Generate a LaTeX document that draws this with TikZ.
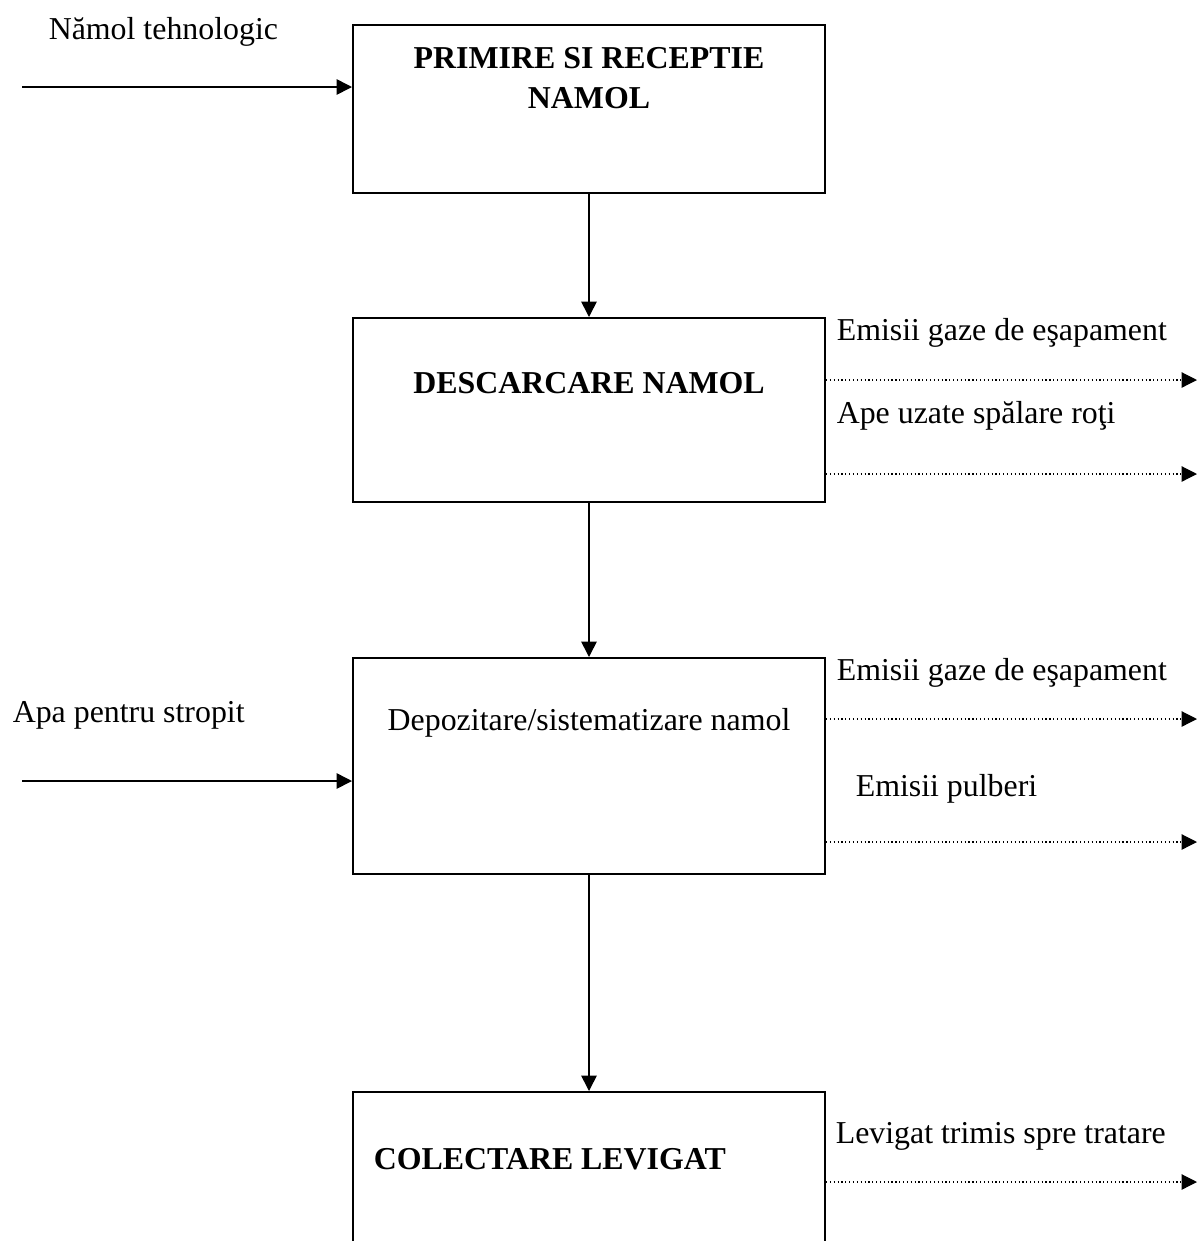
\documentclass[tikz,border=0pt]{standalone}
\usepackage{fontspec}
\setmainfont{Liberation Serif}
\usetikzlibrary{arrows.meta,positioning,fit}

\begin{document}
\begin{tikzpicture}[
            x = 0.3766pt, y = -0.3766pt, % one unit = one pixel of the page
            > = {Triangle[length=5.8pt, width=5.8pt]}, % arrow head style
            font = \fontsize{12}{13.8}\selectfont,
            semithick % line style
        ]

        \tikzstyle{box}=[
            draw = black,
            line width = 0.75pt,
            inner sep = 0pt
        ]
        \tikzstyle{txt}=[inner sep = 0pt, anchor = base west]
        \tikzstyle{boxtext}=[inner sep = 0pt, anchor = base, font = \fontsize{12}{15}\selectfont\bfseries]
        \tikzstyle{emission}=[->, densely dotted, line width = 0.45pt]

        \useasboundingbox (0,0) rectangle (1198,1241);
        \clip (0,0) rectangle (1198,1241);

        % Blocks
        \node[box, fit={(353,25) (825,193)}] (b1) {};
        \node[box, fit={(353,318) (825,502)}] (b2) {};
        \node[box, fit={(353,658) (825,874)}] (b3) {};
        \node[box, fit={(353,1092) (825,1300)}] (b4) {};

        \node[boxtext, anchor = north, align = center] (t1) at (589,47) {PRIMIRE SI RECEPTIE\\NAMOL};
        \node[boxtext] (t2) at (589,393) {DESCARCARE NAMOL};
        \node[inner sep = 0pt, anchor = base] (t3) at (589,730) {Depozitare/sistematizare namol};
        \node[boxtext, anchor = base west] (t4) at (373,1169) {COLECTARE LEVIGAT};

        % Inputs
        \node[txt] (l1) at (48,39) {Nămol tehnologic};
        \node[txt] (l4) at (12,722) {Apa pentru stropit};
        \coordinate (i1) at (22,87);
        \coordinate (i2) at (22,781);

        % Outputs
        \node[txt] (l2) at (836,340) {Emisii gaze de eşapament};
        \node[txt] (l3) at (836,423) {Ape uzate spălare roţi};
        \node[txt] (l5) at (836,680) {Emisii gaze de eşapament};
        \node[txt] (l6) at (855,796) {Emisii pulberi};
        \node[txt] (l7) at (835,1143) {Levigat trimis spre tratare};
        \coordinate (o1) at (1197,380);
        \coordinate (o2) at (1197,474);
        \coordinate (o3) at (1197,719);
        \coordinate (o4) at (1197,842);
        \coordinate (o5) at (1197,1182);

        \path[->] (b1) edge node {} (b2);
        \path[->] (b2) edge node {} (b3);
        \path[->] (b3) edge node {} (b4);
        \path[->] (i1) edge node {} (b1.west |- i1);
        \path[->] (i2) edge node {} (b3.west |- i2);
        \path[emission] (b2.east |- o1) edge node {} (o1);
        \path[emission] (b2.east |- o2) edge node {} (o2);
        \path[emission] (b3.east |- o3) edge node {} (o3);
        \path[emission] (b3.east |- o4) edge node {} (o4);
        \path[emission] (b4.east |- o5) edge node {} (o5);

\end{tikzpicture}
\end{document}
